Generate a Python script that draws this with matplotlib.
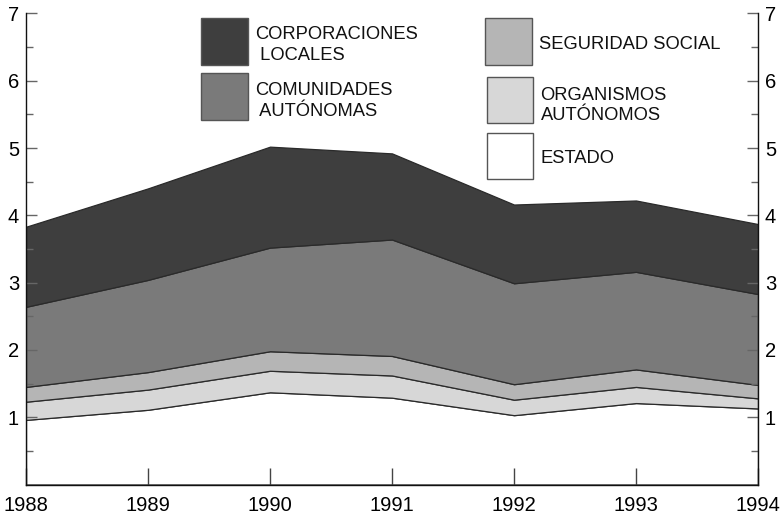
import matplotlib
matplotlib.use("Agg")
import matplotlib.pyplot as plt
from matplotlib.patches import Rectangle
import numpy as np

years = [1988, 1989, 1990, 1991, 1992, 1993, 1994]
# cumulative tops
estado_top = [0.96, 1.11, 1.37, 1.29, 1.03, 1.21, 1.13]
organismos_top = [1.23, 1.41, 1.69, 1.62, 1.26, 1.45, 1.28]
seguridad_top = [1.45, 1.67, 1.98, 1.91, 1.49, 1.71, 1.48]
comunidades_top = [2.64, 3.04, 3.52, 3.64, 2.99, 3.16, 2.83]
corporaciones_top = [3.83, 4.40, 5.02, 4.92, 4.16, 4.22, 3.87]

estado = np.array(estado_top)
organismos = np.array(organismos_top) - np.array(estado_top)
seguridad = np.array(seguridad_top) - np.array(organismos_top)
comunidades = np.array(comunidades_top) - np.array(seguridad_top)
corporaciones = np.array(corporaciones_top) - np.array(comunidades_top)

colors = ["#ffffff", "#d7d7d7", "#b5b5b5", "#7a7a7a", "#3e3e3e"]
legend_labels = [
    ["CORPORACIONES", " LOCALES"],
    ["COMUNIDADES", " AUTÓNOMAS"],
    ["SEGURIDAD SOCIAL"],
    ["ORGANISMOS", "AUTÓNOMOS"],
    ["ESTADO"],
]
legend_colors = ["#3e3e3e", "#7a7a7a", "#b5b5b5", "#d7d7d7", "#ffffff"]

plt.rcParams['font.family'] = ['Liberation Sans', 'DejaVu Sans']

fig = plt.figure(figsize=(7.82, 5.14), dpi=100)
ax = fig.add_axes([26/782, (514-484.5)/514, (758-26)/782, (484.5-13.4)/514])

ax.stackplot(years, estado, organismos, seguridad, comunidades, corporaciones,
             colors=colors, edgecolor="#2a2a2a", linewidth=0.9)

ax.set_xlim(1988, 1994)
ax.set_ylim(0, 7)
ax.spines['top'].set_visible(False)
for s in ['left', 'right', 'bottom']:
    ax.spines[s].set_linewidth(1.0)
    ax.spines[s].set_color('#111111')

ax.set_xticks(years)
ax.set_xticklabels([str(y) for y in years], fontsize=14.5)
ax.set_yticks([1, 2, 3, 4, 5, 6, 7])
ax.set_yticklabels(['1', '2', '3', '4', '5', '6', '7'], fontsize=14.5)
ax.set_yticks([0.5, 1.5, 2.5, 3.5, 4.5, 5.5, 6.5], minor=True)
ax.tick_params(axis='y', which='major', direction='in', length=8, width=1,
               color='#666666', left=True, right=True, labelleft=True,
               labelright=True, pad=5)
ax.tick_params(axis='y', which='minor', direction='in', length=5, width=1,
               color='#666666', left=True, right=True)
ax.tick_params(axis='x', which='major', direction='in', length=12, width=1,
               color='#444444', pad=8)

def px(x, y):
    return x/782, (514 - y)/514

# (box x0, y0, x1, y1, text x, baselines)
boxes = [
    (201, 18.3, 248, 65, 255, [39.3, 60]),
    (201, 73.3, 248, 120, 255, [95, 116]),
    (485, 18.3, 531.5, 65, 539.3, [49.3]),
    (486.7, 76.7, 533, 123.3, 540.5, [100, 120]),
    (486.7, 132.7, 533, 179.3, 540.5, [162.7]),
]
for (x0, y0, x1, y1, tx, bls), lines, col in zip(boxes, legend_labels, legend_colors):
    fx0, fy1 = px(x0, y1)
    fx1, fy0 = px(x1, y0)
    fig.patches.append(Rectangle((fx0, fy1), fx1 - fx0, fy0 - fy1,
                                 transform=fig.transFigure, facecolor=col,
                                 edgecolor='#555555', linewidth=1.0))
    for line, bl in zip(lines, bls):
        tx_, ty_ = px(tx, bl)
        fig.text(tx_, ty_, line, fontsize=13.2, va='baseline', ha='left',
                 color='#111111')

fig.savefig("out.png", dpi=100)
